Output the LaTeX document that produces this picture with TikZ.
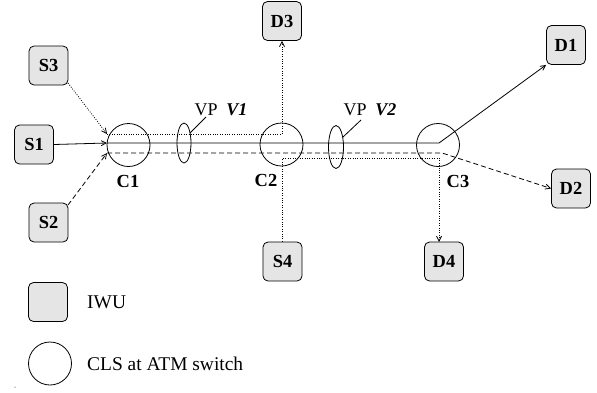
\documentclass[tikz,border=0pt]{standalone}
\usepackage{fontspec}
\setmainfont{Liberation Serif}
\usetikzlibrary{arrows.meta,shapes.geometric}
\definecolor{boxgray}{RGB}{229,229,229}
\tikzset{
  iwu/.style={draw=black, fill=boxgray, rounded corners=5bp, minimum width=39bp, minimum height=39bp, line width=0.8bp, inner sep=0pt, font=\fontsize{18.5}{20}\selectfont\bfseries},
  cls/.style={draw=black, circle, minimum size=43bp, line width=0.8bp, inner sep=0pt},
  vp/.style={draw=black, ellipse, line width=0.8bp, inner sep=0pt},
  lbl/.style={font=\fontsize{18.5}{20}\selectfont\bfseries, inner sep=0pt},
  txt/.style={font=\fontsize{18}{20}\selectfont, inner sep=0pt},
  legtxt/.style={font=\fontsize{19.5}{22}\selectfont, inner sep=0pt, anchor=west},
  conn/.style={line width=0.8bp},
  arr/.style={-{Straight Barb[length=5bp,width=5bp]}},
  dots/.style={dash pattern=on 0.9bp off 1.5bp},
  dashes/.style={dash pattern=on 5bp off 3bp},
}
\begin{document}
\begin{tikzpicture}[x=1bp,y=-1bp]
\useasboundingbox (0,0) rectangle (597,392);
% IWU nodes
\node[iwu] (S3) at (48.5,65.5) {S3};
\node[iwu] (S1) at (34,144.5) {S1};
\node[iwu] (S2) at (48.5,222.5) {S2};
\node[iwu] (D3) at (282,21) {D3};
\node[iwu] (S4) at (282.5,261.5) {S4};
\node[iwu] (D1) at (566,45) {D1};
\node[iwu] (D2) at (571,188.5) {D2};
\node[iwu] (D4) at (444,261.5) {D4};
% CLS switches
\node[cls] (C1) at (128.5,145) {};
\node[cls] (C2) at (281.5,144.5) {};
\node[cls] (C3) at (438,145) {};
\node[lbl] (C1l) at (128,181) {C1};
\node[lbl] (C2l) at (266,180) {C2};
\node[lbl] (C3l) at (458,181) {C3};
% VPs
\node[vp, minimum width=14bp, minimum height=40bp] (V1) at (184,143) {};
\node[vp, minimum width=15bp, minimum height=43bp] (V2) at (336,147) {};
\node[txt, anchor=base] (V1l) at (221,115) {VP\ \ \textbf{\textit{V1}}};
\node[txt, anchor=base] (V2l) at (370,115) {VP\ \ \textbf{\textit{V2}}};
\coordinate (v1a) at (190,133);
\coordinate (v1b) at (206,117);
\coordinate (v2a) at (343,137);
\coordinate (v2b) at (361,120);
\draw[conn] (v1a) -- (v1b);
\draw[conn] (v2a) -- (v2b);
% route coordinates
\coordinate (c1a) at (107,134);
\coordinate (c1s) at (107,143);
\coordinate (c1b) at (107,153);
\coordinate (c2a) at (282,134);
\coordinate (c2b) at (282.5,158);
\coordinate (c3s) at (439,143);
\coordinate (c3b) at (442,153);
\coordinate (c3c) at (439,158);
\coordinate (d4t) at (439,242);
\coordinate (s3o) at (68,83);
\coordinate (s2o) at (68,205);
% solid path S1 -> D1
\draw[conn, arr] (S1.east) -- (c1s);
\draw[conn, arr] (c1s) -- (c3s) -- (D1.south west);
% dotted S3 -> D3
\draw[conn, dots, arr] (s3o) -- (c1a);
\draw[conn, dots, arr] (c1a) -- (c2a) -- (D3.south);
% dashed S2 -> D2
\draw[conn, dashes, arr] (s2o) -- (c1b);
\draw[conn, dashes, arr] (c1b) -- (c3b) -- (D2.west);
% dotted S4 -> D4
\draw[conn, dots, arr] (S4.north) -- (c2b) -- (c3c) -- (d4t);
% legend
\node[iwu] (Lbox) at (48,302) {};
\node[legtxt] (Ltxt1) at (87,302) {IWU};
\node[cls] (Lcirc) at (50,363.5) {};
\node[legtxt] (Ltxt2) at (87,363.5) {CLS at ATM switch};
\fill (15,387) circle (0.5bp);
\end{tikzpicture}
\end{document}
